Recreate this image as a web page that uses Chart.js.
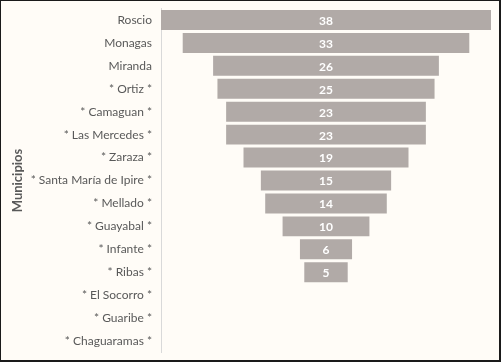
<!DOCTYPE html>
<html>
<head>
<meta charset="utf-8">
<script src="https://cdn.jsdelivr.net/npm/chart.js@4.4.0/dist/chart.umd.min.js"></script>
<style>
  html, body { margin: 0; padding: 0; background: #fffcf7; }
  #wrap {
    width: 498px; height: 359px;
    border-top: 1px solid #1a1a1a; border-left: 1px solid #1a1a1a;
    border-right: 2px solid #1a1a1a; border-bottom: 2px solid #1a1a1a;
    background: #fffcf7;
  }
</style>
</head>
<body>
<div id="wrap"><canvas id="chart" width="498" height="359"></canvas></div>
<script>
// municipios y cantidades
var municipios = ['Roscio', 'Monagas', 'Miranda', '* Ortiz *', '* Camaguan *', '* Las Mercedes *',
  '* Zaraza *', '* Santa María de Ipire *', '* Mellado *', '* Guayabal *', '* Infante *', '* Ribas *',
  '* El Socorro *', '* Guaribe *', '* Chaguaramas *'];
var valores = [38, 33, 26, 25, 23, 23, 19, 15, 14, 10, 6, 5, 0, 0, 0];

// barras flotantes centradas en cero -> embudo
var barras = valores.map(function(v){
  return v ? [-v / 2, v / 2] : null;
});

// dibuja el valor en el centro de cada barra
var etiquetas = {
  id: 'etiquetas',
  afterDatasetsDraw: function(chart){
    var ctx = chart.ctx;
    var meta = chart.getDatasetMeta(0);
    ctx.save();
    ctx.fillStyle = '#ffffff';
    ctx.font = 'bold 12px Lato';
    ctx.textAlign = 'center';
    ctx.textBaseline = 'middle';
    meta.data.forEach(function(bar, i){
      if(!valores[i]) return;
      var cx = (bar.x + bar.base) / 2;
      ctx.fillText(String(valores[i]), cx, bar.y + 1);
    });
    ctx.restore();
  }
};

new Chart(document.getElementById('chart'), {
  type: 'bar',
  data: {
    labels: municipios,
    datasets: [{
      data: barras,
      backgroundColor: '#b1aaa7',
      borderWidth: 0,
      barPercentage: 0.87,
      categoryPercentage: 1
    }]
  },
  options: {
    indexAxis: 'y',
    responsive: false,
    animation: false,
    layout: { padding: { left: 5, right: 8, top: 7.5, bottom: 7.5 } },
    plugins: { legend: { display: false }, tooltip: { enabled: false } },
    scales: {
      x: { display: false, min: -19, max: 19 },
      y: {
        grid: { display: true, drawOnChartArea: false, drawTicks: true, tickLength: 9, color: 'rgba(0,0,0,0)' },
        border: { display: true, color: '#d9d9d9', width: 1 },
        ticks: { color: '#595959', font: { family: 'Lato', size: 12 }, padding: 0 },
        title: { display: true, text: 'Municipios', color: '#595959', font: { family: 'Lato', size: 13, weight: 'bold' } },
        afterFit: function(scale){ scale.width = 155; }
      }
    }
  },
  plugins: [etiquetas]
});
</script>
</body>
</html>
